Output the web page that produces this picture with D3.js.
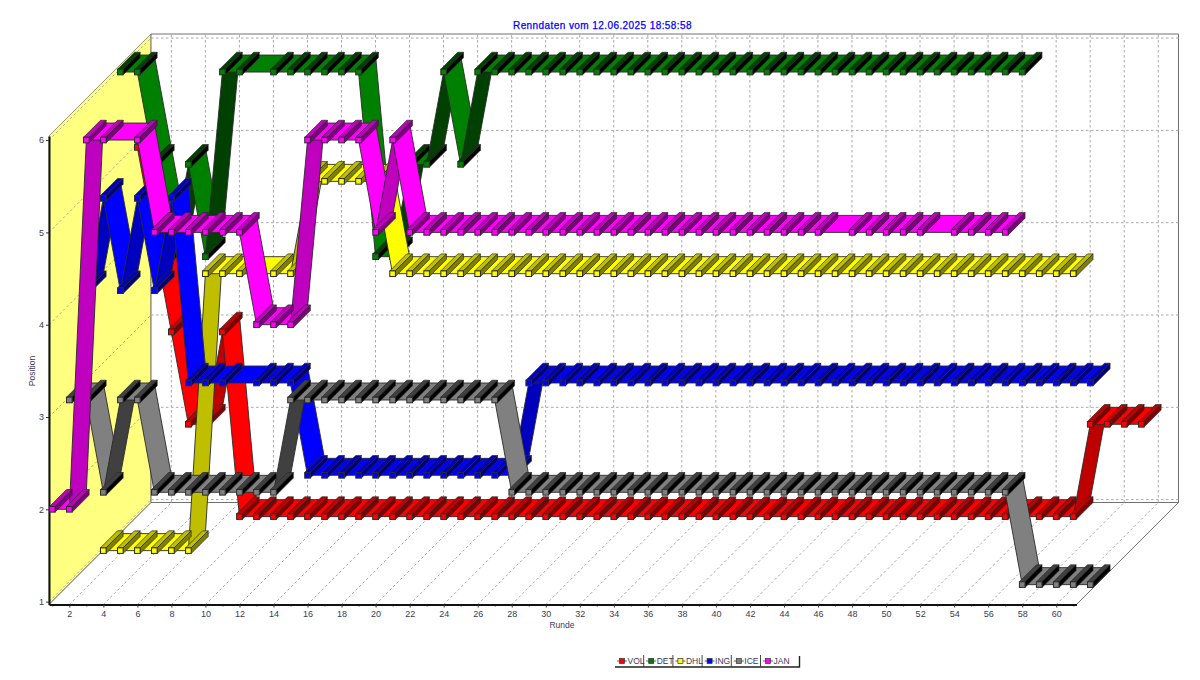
<!DOCTYPE html>
<html>
<head>
<meta charset="utf-8">
<script src="https://cdnjs.cloudflare.com/ajax/libs/d3/7.8.5/d3.min.js"></script>
<style>
html,body{margin:0;padding:0;background:#fff}
svg{display:block}
text{font-family:"Liberation Sans",Arial,sans-serif}
</style>
</head>
<body>
<svg id="chart" width="1200" height="680"></svg>
<script>
const titleText = "Renndaten vom 12.06.2025 18:58:58";
const xTitle = "Runde";
const yTitle = "Position";
const seriesNames = ["VOL","DET","DHL","ING","ICE","JAN"];
const seriesColors = ["#FF0000","#008000","#FFFF00","#0000FF","#808080","#FF00FF"];
const xTickLabels = [2,4,6,8,10,12,14,16,18,20,22,24,26,28,30,32,34,36,38,40,42,44,46,48,50,52,54,56,58,60];
const yTickLabels = [1,2,3,4,5,6];

// Position per lap, starting at lap 1; null = lap without a marker.
const VOL = [5,4,3,2,2,3,
  1,1,1,1,1,1,1,1,1,1,1,1,1,1,1,1,1,1,1,1,1,1,1,1,1,1,1,1,1,1,1,1,1,1,1,1,1,1,1,1,1,1,1,1,1,1,1,1,1,1,
  2,2,2,2];
const DET = [6,6,5,4,5,4,6,6,null,6,6,6,6,6,6,4,4,5,5,6,5,
  6,6,6,6,6,6,6,6,6,6,6,6,6,6,6,6,6,6,6,6,6,6,6,6,6,6,6,6,6,6,6,6,6];
const DHL = [1,1,1,1,1,1,4,4,4,null,4,4,5,5,5,5,5,
  4,4,4,4,4,4,4,4,4,4,4,4,4,4,4,4,4,4,4,4,4,4,4,4,4,4,4,4,4,4,4,4,4,4,4,4,4,4,4,4,4];
const ING = [4,5,4,5,4,5,3,3,3,null,3,3,3,
  2,2,2,2,2,2,2,2,2,2,2,2,2,
  3,3,3,3,3,3,3,3,3,3,3,3,3,3,3,3,3,3,3,3,3,3,3,3,3,3,3,3,3,3,3,3,3,3];
const ICE = [3,3,2,3,3,2,2,2,2,2,2,2,2,
  3,3,3,3,3,3,3,3,3,3,3,3,3,
  2,2,2,2,2,2,2,2,2,2,2,2,2,2,2,2,2,2,2,2,2,2,2,2,2,2,2,2,2,2,
  1,1,1,1,1];
const JAN = [2,2,6,6,null,6,5,5,5,5,5,5,4,4,4,6,6,6,6,5,6,
  5,5,5,5,5,5,5,5,5,5,5,5,5,5,5,5,5,5,5,5,5,5,5,5,5,
  null,5,5,5,5,5,null,5,5,5,5];
const seriesValues = [VOL,DET,DHL,ING,ICE,JAN];

const svg = d3.select("#chart");
const plotL = 49, plotR = 1076.5, plotB = 604.5, plotT = 136, wallDepth = 102;
const x = d3.scaleLinear().domain([0.806,61.19]).range([plotL,plotR]);
const y = d3.scaleLinear().domain([0.969,6.044]).range([plotB,plotT]);
const depth = d3.scalePoint().domain(seriesNames.slice().reverse()).range([0,85]);
const line = d3.line();
const dark = (hex,amount) => {
  const c = d3.rgb(hex);
  return d3.rgb(Math.max(0,c.r-amount),Math.max(0,c.g-amount),Math.max(0,c.b-amount)).formatHex();
};
const textColor = "#3a3a5a";
const gridColor = "#a8a8a8";

// Walls
const walls = svg.append("g");
walls.append("path")
  .attr("d",line([[plotL,plotT],[plotL+wallDepth,plotT-wallDepth],[plotL+wallDepth,plotB-wallDepth],[plotL,plotB]])+"Z")
  .attr("fill","#FFFF80").attr("stroke","#808060").attr("stroke-width",0.8);
walls.append("path")
  .attr("d",line([[plotL+wallDepth,plotT-wallDepth],[plotR+wallDepth,plotT-wallDepth],[plotR+wallDepth,plotB-wallDepth],[plotL+wallDepth,plotB-wallDepth]])+"Z")
  .attr("fill","#fff").attr("stroke","#707070").attr("stroke-width",1);
walls.append("path")
  .attr("d",line([[plotL,plotB],[plotL+wallDepth,plotB-wallDepth],[plotR+wallDepth,plotB-wallDepth],[plotR,plotB]])+"Z")
  .attr("fill","#fff").attr("stroke","#707070").attr("stroke-width",1);

// Grid
const grid = svg.append("g").attr("fill","none").attr("stroke",gridColor).attr("stroke-width",1).attr("stroke-dasharray","2.5,2.5");
xTickLabels.forEach(v=>{
  grid.append("path").attr("d",line([[x(v),plotB],[x(v)+wallDepth,plotB-wallDepth]]));
  grid.append("path").attr("d",line([[x(v)+wallDepth,plotB-wallDepth],[x(v)+wallDepth,plotT-wallDepth]]));
});
yTickLabels.forEach(v=>{
  grid.append("path").attr("d",line([[plotL,y(v)],[plotL+wallDepth,y(v)-wallDepth]]));
  grid.append("path").attr("d",line([[plotL+wallDepth,y(v)-wallDepth],[plotR+wallDepth,y(v)-wallDepth]]));
});

// Axes
const minorLaps = d3.range(1,62,2);
const xMinor = svg.append("g").attr("transform",`translate(0,${plotB})`)
  .call(d3.axisBottom(x).tickValues(minorLaps).tickSize(2).tickFormat(""));
xMinor.select(".domain").remove();
xMinor.selectAll("line").attr("stroke","#444");
const xAxis = svg.append("g").attr("transform",`translate(0,${plotB})`)
  .call(d3.axisBottom(x).tickValues(xTickLabels).tickSize(3).tickSizeOuter(0).tickPadding(3.5).tickFormat(d3.format("d")));
const yAxis = svg.append("g").attr("transform",`translate(${plotL},0)`)
  .call(d3.axisLeft(y).tickValues(yTickLabels).tickSize(3).tickSizeOuter(0).tickPadding(2).tickFormat(d3.format("d")));
[xAxis,yAxis].forEach(a=>{
  a.select(".domain").attr("stroke","#111").attr("stroke-width",2);
  a.selectAll(".tick line").attr("stroke","#333");
  a.selectAll("text").attr("fill",textColor).attr("font-size",9).attr("font-family","Liberation Sans, Arial, sans-serif");
});

// Series, back to front
const half = 2.8;
const plot = svg.append("g");
seriesNames.forEach((name,si)=>{
  const col = seriesColors[si];
  const d = depth(name);
  const pts = seriesValues[si].map((v,i)=>({lap:i+1,v})).filter(p=>p.v!==null)
    .map(p=>({px:x(p.lap)+d,py:y(p.v)-d}));
  const g = plot.append("g");
  g.selectAll("path.ribbon").data(d3.pairs(pts)).join("path").attr("class","ribbon")
    .attr("d",([a,b])=>line([[a.px,a.py],[b.px,b.py],[b.px+17,b.py-17],[a.px+17,a.py-17]])+"Z")
    .attr("fill",([a,b])=> b.py<a.py ? dark(col,64) : col)
    .attr("stroke","#2a2a2a").attr("stroke-width",0.9).attr("stroke-linejoin","round");
  const m = g.selectAll("g.pt").data(pts).join("g").attr("class","pt");
  m.append("path")
    .attr("d",p=>line([[p.px-half,p.py-half],[p.px+half,p.py-half],[p.px+half+17,p.py-half-17],[p.px-half+17,p.py-half-17]])+"Z")
    .attr("fill",dark(col,64)).attr("stroke","#2a2a2a").attr("stroke-width",0.7);
  m.append("path")
    .attr("d",p=>line([[p.px+half,p.py-half],[p.px+half,p.py+half],[p.px+half+17,p.py+half-17],[p.px+half+17,p.py-half-17]])+"Z")
    .attr("fill",dark(col,128)).attr("stroke","#2a2a2a").attr("stroke-width",0.7);
  m.append("rect")
    .attr("x",p=>p.px-half).attr("y",p=>p.py-half).attr("width",half*2).attr("height",half*2)
    .attr("fill",col).attr("stroke","#2a2a2a").attr("stroke-width",1);
});

// Titles
svg.append("text").attr("x",602.5).attr("y",28.5).attr("text-anchor","middle")
  .attr("fill","#0000FF").attr("font-size",10).attr("letter-spacing",0.42).attr("font-weight",400)
  .attr("stroke","#0000FF").attr("stroke-width",0.25).text(titleText);
svg.append("text").attr("x",562).attr("y",628).attr("text-anchor","middle")
  .attr("fill",textColor).attr("font-size",8.5).text(xTitle);
svg.append("text").attr("transform","translate(35,371) rotate(-90)").attr("text-anchor","middle")
  .attr("fill",textColor).attr("font-size",8.5).text(yTitle);

// Legend
const legX = d3.scalePoint().domain(seriesNames).range([615,761]);
const legend = svg.append("g");
legend.append("path").attr("d",line([[615,667],[799.5,667],[799.5,656]]))
  .attr("fill","none").attr("stroke","#222").attr("stroke-width",1.4);
seriesNames.forEach((name,i)=>{
  const lx = legX(name);
  const lg = legend.append("g");
  if(i>0) lg.append("line").attr("x1",lx-0.5).attr("x2",lx-0.5).attr("y1",655).attr("y2",667).attr("stroke","#333").attr("stroke-width",0.9);
  lg.append("line").attr("x1",lx+2).attr("x2",lx+12).attr("y1",661).attr("y2",661).attr("stroke","#333").attr("stroke-width",0.8);
  lg.append("rect").attr("x",lx+4.5).attr("y",658.5).attr("width",5).attr("height",5)
    .attr("fill",seriesColors[i]).attr("stroke","#333").attr("stroke-width",0.7);
  lg.append("text").attr("x",lx+12.5).attr("y",664.2).attr("fill",textColor).attr("font-size",8.5).text(name);
});
</script>
</body>
</html>
